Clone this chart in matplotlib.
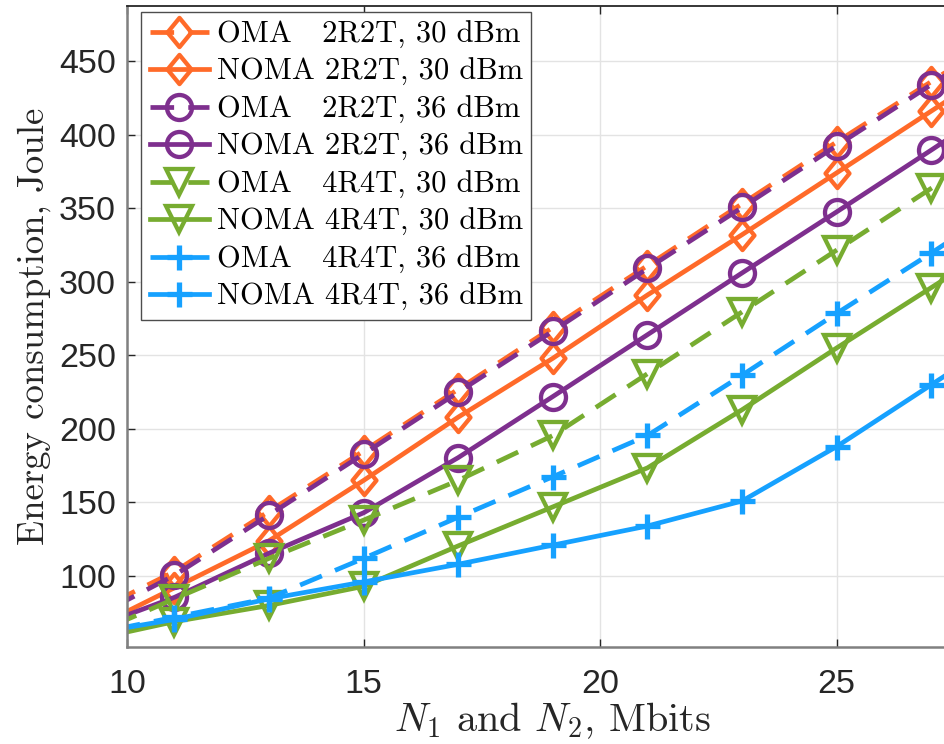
import matplotlib
matplotlib.use("Agg")
import matplotlib.pyplot as plt
from matplotlib.path import Path

# Message size N1 = N2 (Mbits); markers sit on the odd values 11..27
n_mbits = [9, 11, 13, 15, 17, 19, 21, 23, 25, 27, 29]

# Energy consumption (Joule)
oma_2r2t_30 = [71, 103, 144, 185, 227, 269, 311, 353, 395, 436, 478]
noma_2r2t_30 = [60, 92, 124, 165, 208, 248, 291, 332, 374, 416, 458]
oma_2r2t_36 = [67, 100.5, 141.5, 183, 225, 266.5, 309, 350.5, 392.5, 434, 476]
noma_2r2t_36 = [61.5, 85.5, 115.5, 143, 180.5, 222, 264, 306, 347.5, 389.5, 432]
oma_4r4t_30 = [56.5, 84.5, 112, 138, 165, 195.5, 237.5, 279.5, 321.5, 363.5, 405]
noma_4r4t_30 = [55, 69, 80, 93, 120.5, 147, 173.5, 213, 255, 296, 337]
oma_4r4t_36 = [59, 72, 85, 112, 140, 167.5, 195.5, 236.5, 278.5, 319.5, 362]
noma_4r4t_36 = [59.5, 70.5, 84.5, 96, 108, 121, 134, 151, 188, 230, 272]

labels = [
    "OMA   2R2T, 30 dBm",
    "NOMA 2R2T, 30 dBm",
    "OMA   2R2T, 36 dBm",
    "NOMA 2R2T, 36 dBm",
    "OMA   4R4T, 30 dBm",
    "NOMA 4R4T, 30 dBm",
    "OMA   4R4T, 36 dBm",
    "NOMA 4R4T, 36 dBm",
]

x_ticks = [10, 15, 20, 25]
y_ticks = [100, 150, 200, 250, 300, 350, 400, 450]

c_orange = "#FF6A29"
c_purple = "#7E2F8E"
c_green = "#77AC30"
c_blue = "#16A1FF"

# slightly narrow diamond marker
diamond = Path([(0, 1), (0.82, 0), (0, -1), (-0.82, 0), (0, 1)],
               [Path.MOVETO, Path.LINETO, Path.LINETO, Path.LINETO, Path.CLOSEPOLY])

dash = (0, (5.0, 3.0))
series = [
    (oma_2r2t_30, c_orange, dash, diamond, 21),
    (noma_2r2t_30, c_orange, "-", diamond, 21),
    (oma_2r2t_36, c_purple, dash, "o", 18),
    (noma_2r2t_36, c_purple, "-", "o", 18),
    (oma_4r4t_30, c_green, dash, "v", 18.5),
    (noma_4r4t_30, c_green, "-", "v", 18.5),
    (oma_4r4t_36, c_blue, dash, "+", 18),
    (noma_4r4t_36, c_blue, "-", "+", 18),
]

plt.rcParams["mathtext.fontset"] = "cm"
plt.rcParams["axes.unicode_minus"] = False

fig = plt.figure(figsize=(9.45, 7.44), dpi=100)
x_left, x_right = 10, 28
y_bot, y_top = 51.75, 487.4
px_per_x = 47.3
ax_w = (x_right - x_left) * px_per_x / 945
ax = fig.add_axes([127.2 / 945, 97 / 744, ax_w, 641 / 744])

for vals, col, ls, mk, ms in series:
    mew = 3.8 if mk == "+" else 3.1
    ax.plot(n_mbits, vals, color=col, linestyle=ls, linewidth=3.4,
            marker=mk, markersize=ms, markerfacecolor="none",
            markeredgecolor=col, markeredgewidth=mew)

ax.set_xlim(x_left, x_right)
ax.set_ylim(y_bot, y_top)
ax.set_xticks(x_ticks)
ax.set_yticks(y_ticks)
ax.grid(True, color="#E3E3E3", linewidth=1.0)
ax.set_axisbelow(True)

tick_font = {"family": "Liberation Sans", "size": 24.5}
ax.set_xticklabels([str(t) for t in x_ticks], fontdict=tick_font, color="#262626")
ax.set_yticklabels([str(t) for t in y_ticks], fontdict=tick_font, color="#262626")
ax.tick_params(direction="in", length=6, width=1.0, color="#262626",
               top=True, right=True)
ax.tick_params(axis="x", pad=16)
ax.tick_params(axis="y", pad=8)

for side in ("left", "bottom"):
    ax.spines[side].set_color("#808080")
    ax.spines[side].set_linewidth(1.8)
ax.spines["top"].set_color("#262626")
ax.spines["top"].set_linewidth(1.3)

ax.set_xlabel(r"$N_1$ and $N_2$, Mbits", fontfamily="cmr10", fontsize=29,
              color="#262626", labelpad=0)
ax.set_ylabel("Energy consumption, Joule", fontfamily="cmr10", fontsize=26.5,
              color="#262626", labelpad=6)

leg = ax.legend(labels, loc="upper left", bbox_to_anchor=(141 / 945, 1 - 12 / 744),
                bbox_transform=fig.transFigure, borderaxespad=0,
                prop={"family": "cmr10", "size": 22}, handlelength=1.95,
                handletextpad=0.25, labelspacing=0.31, borderpad=0.28,
                fancybox=False, framealpha=1, edgecolor="#4D4D4D")
leg.get_frame().set_linewidth(1.0)

fig.savefig("out.png", dpi=100)
